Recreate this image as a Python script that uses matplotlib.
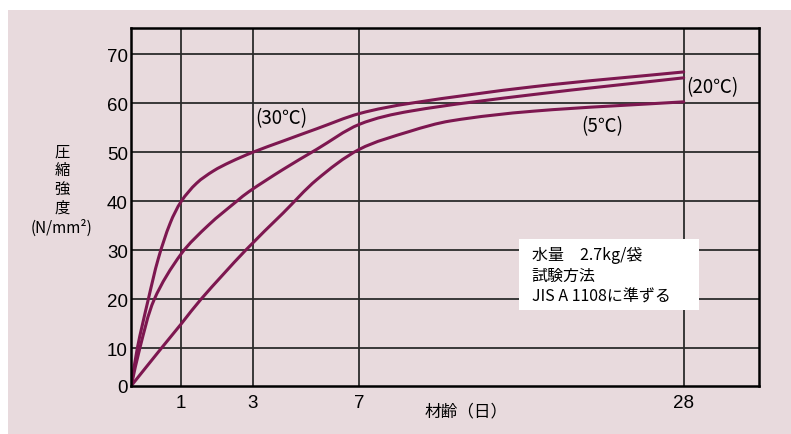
import numpy as np
import matplotlib
matplotlib.use('Agg')
import matplotlib.pyplot as plt
from matplotlib.patches import Rectangle, PathPatch
from matplotlib.path import Path

# ---- data ----
ages_30 = [0, 0.12, 0.34, 0.54, 0.78, 1, 1.43, 1.9, 2.37, 3, 4.14, 5.4, 7, 10.3, 18.3, 28]
str_30 = [0, 10, 20, 28.3, 35.6, 40, 43.7, 46.2, 48.0, 50, 52.3, 54.8, 57.9, 60, 63.4, 66.4]

ages_20 = [0, 0.17, 0.46, 1, 1.77, 2.55, 2.9, 4.14, 5.4, 7, 10.3, 18.3, 28]
str_20 = [0, 10, 20, 29.3, 35.2, 40, 42, 46.5, 50.6, 55.7, 58.4, 61.8, 65.2]

ages_5 = [0, 0.6, 1, 1.55, 2.8, 4.14, 5.4, 7, 10.3, 12.9, 18.3, 28]
str_5 = [0, 10, 15, 20, 30, 37.6, 44.4, 50.6, 54.3, 56.4, 58.4, 60.3]

x_ticks = [1, 3, 7, 28]
y_ticks = [0, 10, 20, 30, 40, 50, 60, 70]
series_labels = ['(30℃)', '(20℃)', '(5℃)']
note_lines = ['水量\u30002.7kg/袋', '試験方法', 'JIS A 1108に準ずる']
y_label = '圧\n縮\n強\n度'
y_unit = '(N/mm²)'
x_label = '材齢（日）'

# ---- styling ----
PINK = '#e8dadd'
CURVE = '#7d1750'
GRID = '#2b2b2b'
JP = ['Noto Sans CJK JP', 'DejaVu Sans']

# piecewise axis scales as drawn in the original chart
xk_age = np.array([-100, 0, 1, 3, 7, 28, 100])
xk_pos = np.array([-5000, 0, 50, 121.4, 228, 552.4, 552.4 + 72 * 15.45])
yk_val = np.array([-100, 0, 10, 100])
yk_pos = np.array([-4000, 0, 37.4, 37.4 + 9 * 49])


def xf(v):
    return np.interp(v, xk_age, xk_pos)


def xi(v):
    return np.interp(v, xk_pos, xk_age)


def yf(v):
    return np.interp(v, yk_val, yk_pos)


def yi(v):
    return np.interp(v, yk_pos, yk_val)


def smooth_path(ages, vals):
    """Bezier path through the read points (tangents computed in scaled space)."""
    P = np.column_stack([xf(np.asarray(ages, float)), yf(np.asarray(vals, float))])
    n = len(P)
    d = np.hypot(*np.diff(P, axis=0).T)
    T = np.zeros_like(P)
    T[0] = (P[1] - P[0]) / d[0]
    T[-1] = (P[-1] - P[-2]) / d[-1]
    for i in range(1, n - 1):
        T[i] = (P[i + 1] - P[i - 1]) / (d[i - 1] + d[i])
    verts = [P[0]]
    codes = [Path.MOVETO]
    for i in range(n - 1):
        c1 = P[i] + T[i] * d[i] / 3
        c2 = P[i + 1] - T[i + 1] * d[i] / 3
        verts += [c1, c2, P[i + 1]]
        codes += [Path.CURVE4] * 3
    V = np.array(verts)
    V = np.column_stack([xi(V[:, 0]), yi(V[:, 1])])
    return Path(V, codes)


W, H = 791, 435
fig = plt.figure(figsize=(W / 100, H / 100), dpi=100, facecolor='white')
fig.patches.append(Rectangle((8 / W, 0), 1 - 8 / W, 1 - 11 / H,
                             transform=fig.transFigure, facecolor=PINK,
                             edgecolor='none', zorder=-10))

ax = fig.add_axes([131.3 / W, 1 - 386.7 / H, (759 - 131.3) / W, (386.7 - 29) / H])
ax.set_facecolor(PINK)
ax.set_xscale('function', functions=(xf, xi))
ax.set_yscale('function', functions=(yf, yi))
ax.set_xlim(0, 28 + 75.3 / 15.45)
ax.set_ylim(0, 10 + (357.7 - 37.4) / 4.9)

for t in x_ticks:
    ax.axvline(t, color=GRID, lw=1.3, zorder=1)
for t in y_ticks[1:]:
    ax.axhline(t, color=GRID, lw=1.3, zorder=1)

for a, s in [(ages_30, str_30), (ages_20, str_20), (ages_5, str_5)]:
    ax.add_patch(PathPatch(smooth_path(a, s), facecolor='none', edgecolor=CURVE,
                           lw=2.2, capstyle='round', joinstyle='round', zorder=4))

ax.set_xticks(x_ticks)
ax.set_xticklabels([str(t) for t in x_ticks])
ax.set_yticks(y_ticks)
ax.set_yticklabels([str(t) for t in y_ticks])
ax.tick_params(axis='both', length=0, labelsize=13.5, colors='black')
ax.tick_params(axis='x', pad=6)
ax.tick_params(axis='y', pad=2.5)
for lab in ax.get_xticklabels() + ax.get_yticklabels():
    lab.set_family(['Liberation Sans', 'DejaVu Sans'])

for side in ['left', 'bottom', 'right', 'top']:
    ax.spines[side].set_color('black')
    ax.spines[side].set_linewidth(1.8)
    ax.spines[side].set_zorder(5)

# curve labels
ax.text(3.09, 57.1, series_labels[0], fontsize=13.5, family=JP, va='center', ha='left')
ax.text(28.15, 63.5, series_labels[1], fontsize=13.5, family=JP, va='center', ha='left')
ax.text(21.4, 55.5, series_labels[2], fontsize=13.5, family=JP, va='center', ha='left')

# note box
box = Rectangle((519 / W, 1 - 310.7 / H), 180 / W, 70.7 / H, transform=fig.transFigure,
                facecolor='white', edgecolor='none', zorder=6, clip_on=False)
ax.add_artist(box)
for ypx, line in zip([255, 276.7, 297.3], note_lines):
    fig.text(531.7 / W, 1 - ypx / H, line, fontsize=11.5, family=JP,
             va='center', ha='left', zorder=7)

# axis titles
fig.text(62 / W, 1 - 180 / H, y_label, fontsize=11, family=JP, ha='center',
         va='center', linespacing=1.15)
fig.text(61 / W, 1 - 228 / H, y_unit, fontsize=11, family=JP, ha='center', va='center')
fig.text(466 / W, 1 - 412 / H, x_label, fontsize=12, family=JP, ha='center', va='center')

fig.savefig('out.png', dpi=100, facecolor='white')
